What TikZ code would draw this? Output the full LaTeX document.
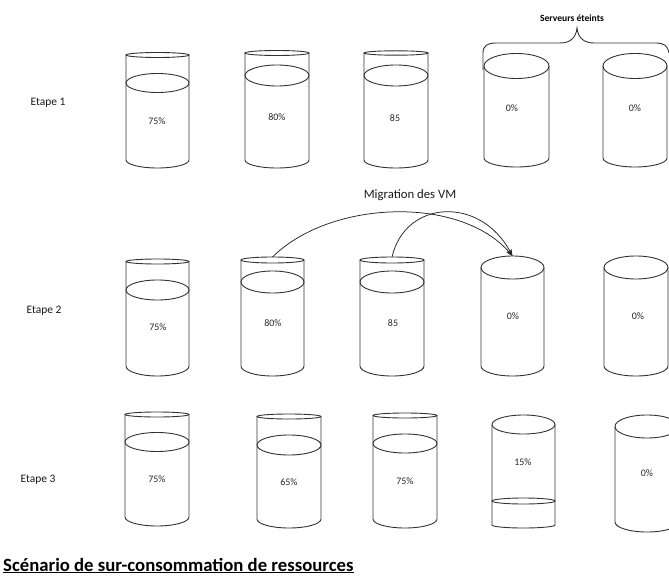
\documentclass[tikz,border=0pt]{standalone}
\usepackage{fontspec}
\setmainfont{Carlito}
\usetikzlibrary{arrows.meta}
\newcommand\servcyl[7]{%
  \pgfmathsetmacro\cylcx{(#2+#3)/2}%
  \pgfmathsetmacro\cylrx{(#3-#2)/2}%
  \pgfmathsetmacro\cylty{#4-#5}%
  \draw[cylline] (#2,-#4) -- (#2,-#6) arc[start angle=180,end angle=360,x radius=\cylrx,y radius=#7] -- (#3,-#4);
  \draw[cylline] (\cylcx,-#4) ellipse[x radius=\cylrx,y radius=#5];
  \coordinate (#1) at (\cylcx,-\cylty);
}
\newcommand\servlvl[4]{%
  \pgfmathsetmacro\cylcx{(#1+#2)/2}%
  \pgfmathsetmacro\cylrx{(#2-#1)/2}%
  \draw[cylline] (\cylcx,-#3) ellipse[x radius=\cylrx,y radius=#4];
}
\begin{document}
\begin{tikzpicture}[x=1bp,y=1bp,
  cylline/.style={draw=black!80,line width=0.9bp},
  pct/.style={font=\fontsize{10}{11}\selectfont,text=black!85},
  etape/.style={font=\fontsize{11.5}{13}\selectfont,text=black!90},
  migr/.style={draw=black!85,line width=0.75bp,-{Stealth[length=7bp,width=5bp]}}]
\useasboundingbox (0,0) rectangle (669,-579);
\clip (0,0) rectangle (669,-579);
% Step labels
\node[etape] (e1) at (48,-103) {Etape 1};
\node[etape] (e2) at (44,-311) {Etape 2};
\node[etape] (e3) at (38,-480) {Etape 3};
% Step 1
\servcyl{c11}{126}{189}{55}{2.5}{160}{8}
\servlvl{126}{189}{83}{9.5}
\servcyl{c12}{245}{309}{53}{2.5}{160}{8}
\servlvl{245}{309}{75.5}{10.5}
\servcyl{c13}{364}{428}{53}{2.2}{160}{8}
\servlvl{364}{428}{75.5}{10.5}
\servcyl{c14}{484}{549}{66}{12.5}{158}{9}
\servcyl{c15}{603}{667}{66}{12.5}{158}{9}
\node[pct] (p11) at (157,-121) {75\%};
\node[pct] (p12) at (277,-117) {80\%};
\node[pct] (p13) at (395,-118) {85};
\node[pct] (p14) at (512,-108) {0\%};
\node[pct] (p15) at (635,-108) {0\%};
% brace
\draw[cylline] (483,-70) -- (483,-53) .. controls (483,-46) and (487,-43) .. (496,-43) -- (560,-43) .. controls (570,-43) and (576,-38) .. (577,-28) .. controls (578,-38) and (584,-43) .. (594,-43) -- (656,-43) .. controls (664,-43) and (668,-46) .. (669,-53);
\node[font=\bfseries\fontsize{9.6}{11}\selectfont] (srv) at (572,-18) {Serveurs éteints};
% Step 2
\servcyl{c21}{126}{189}{261.5}{2.5}{366}{10}
\servlvl{126}{189}{290}{10}
\servcyl{c22}{241}{304}{260}{3}{366}{10}
\servlvl{241}{304}{282}{11}
\servcyl{c23}{360}{424}{260}{3}{366}{10}
\servlvl{360}{424}{282}{11}
\servcyl{c24}{481}{544}{267.5}{11.5}{366}{10}
\servcyl{c25}{604}{668}{267.5}{11.5}{366}{10}
\node[pct] (p21) at (158,-327) {75\%};
\node[pct] (p22) at (273,-323) {80\%};
\node[pct] (p23) at (393,-323) {85};
\node[pct] (p24) at (513,-316) {0\%};
\node[pct] (p25) at (638,-316) {0\%};
\node[font=\fontsize{12.8}{14}\selectfont,text=black!90] (mig) at (410,-195) {Migration des VM};
\draw[migr] (c22) .. controls (330,-200) and (460,-195) .. (c24);
\draw[migr] (c23) .. controls (405,-200) and (480,-195) .. (c24);
% Step 3
\servcyl{c31}{125}{189}{414.5}{2.5}{517}{9}
\servlvl{125}{189}{442}{9.5}
\servcyl{c32}{257}{321}{416.5}{2.5}{519}{9}
\servlvl{257}{321}{445}{10}
\servcyl{c33}{373}{437}{415.5}{2.5}{519}{9}
\servlvl{373}{437}{443.5}{9.5}
\servcyl{c34}{492}{555}{424.5}{9.5}{525}{3}
\servlvl{492}{555}{501}{3}
\servcyl{c35}{615}{679}{426.5}{11.5}{522}{10}
\node[pct] (p31) at (157,-479) {75\%};
\node[pct] (p32) at (289,-482) {65\%};
\node[pct] (p33) at (405,-481) {75\%};
\node[pct] (p34) at (523,-462) {15\%};
\node[pct] (p35) at (647,-473) {0\%};
% title
\node[anchor=base west,inner sep=0pt,font=\bfseries\fontsize{18.8}{22}\selectfont] (title) at (3,-571) {\underline{Scénario de sur-consommation de ressources}};
\end{tikzpicture}
\end{document}
